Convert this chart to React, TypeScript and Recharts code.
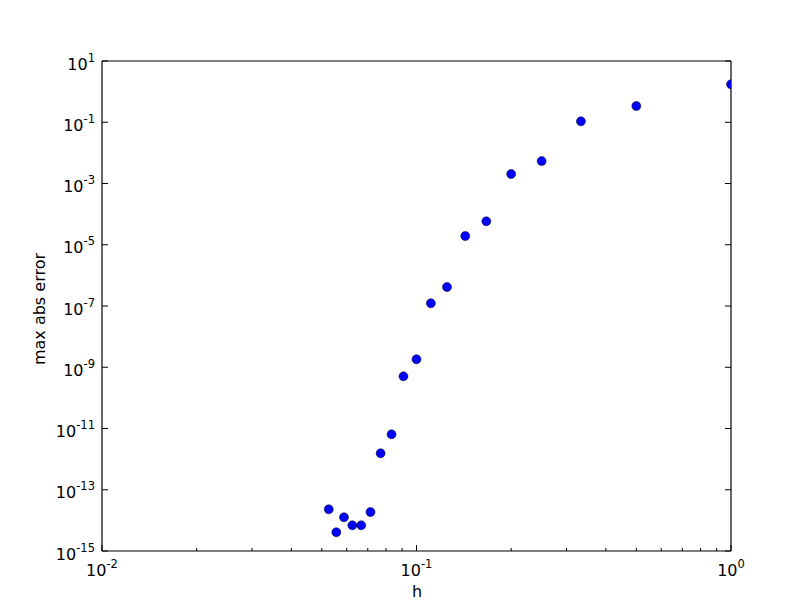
import React from 'react';
import { ScatterChart, Scatter, XAxis, YAxis } from 'recharts';

// step size h = 1/n, n = 1..19
const hValues = [
  1, 0.5, 0.3333, 0.25, 0.2, 0.1667, 0.1429, 0.125, 0.1111, 0.1,
  0.0909, 0.0833, 0.0769, 0.0714, 0.0667, 0.0625, 0.0588, 0.0556, 0.0526,
];
const errValues = [
  1.73, 0.34, 0.107, 5.4e-3, 2.04e-3, 5.8e-5, 1.93e-5, 4.17e-7, 1.23e-7, 1.82e-9,
  5.06e-10, 6.45e-12, 1.55e-12, 1.87e-14, 6.9e-15, 6.9e-15, 1.26e-14, 4.1e-15, 2.3e-14,
];

const xMajorTicks = [0.01, 0.1, 1];
const xMajorLabels = ['-2', '-1', '0'];
const xMinorTicks = [
  0.02, 0.03, 0.04, 0.05, 0.06, 0.07, 0.08, 0.09,
  0.2, 0.3, 0.4, 0.5, 0.6, 0.7, 0.8, 0.9,
];
const yTicks = [1e1, 1e-1, 1e-3, 1e-5, 1e-7, 1e-9, 1e-11, 1e-13, 1e-15];
const yTickLabels = ['1', '-1', '-3', '-5', '-7', '-9', '-11', '-13', '-15'];

const data = hValues.map((h, i) => ({ h, err: errValues[i] }));
const xTicks = [...xMajorTicks, ...xMinorTicks].sort((a, b) => a - b);

const W = 812;
const H = 612;
const M = { top: 31, right: 21, bottom: 31, left: 42 };
const AXIS_H = 30;
const AXIS_W = 60;
// plot rect, used to clip markers like matplotlib does
const PLOT = {
  x: M.left + AXIS_W,
  y: M.top + AXIS_H,
  w: W - M.left - M.right - 2 * AXIS_W,
  h: H - M.top - M.bottom - 2 * AXIS_H,
};

const FONT = 'DejaVu Sans, sans-serif';
const MAJOR = 6;
const MINOR = 3;

const majorIndex = (v: number) => xMajorTicks.findIndex((t) => Math.abs(t - v) < t * 1e-6);

const BottomTick = (props: any) => {
  const { x, y, payload } = props;
  const i = majorIndex(payload.value);
  return (
    <g>
      <line x1={x} x2={x} y1={y} y2={y - (i >= 0 ? MAJOR : MINOR)} stroke="#000" />
      {i >= 0 && (
        <text x={x} y={y + 24.5} textAnchor="middle" fontFamily={FONT} fontSize={16} fill="#000">
          <tspan>10</tspan>
          <tspan dy={-8} fontSize={11.5}>{xMajorLabels[i]}</tspan>
        </text>
      )}
    </g>
  );
};

const TopTick = (props: any) => {
  const { x, y, payload } = props;
  const i = majorIndex(payload.value);
  return <line x1={x} x2={x} y1={y} y2={y + (i >= 0 ? MAJOR : MINOR)} stroke="#000" />;
};

const LeftTick = (props: any) => {
  const { x, y, payload } = props;
  const i = yTicks.indexOf(payload.value);
  return (
    <g>
      <line x1={x} x2={x + MAJOR} y1={y} y2={y} stroke="#000" />
      <text x={x - 7} y={y + 8.5} textAnchor="end" fontFamily={FONT} fontSize={16} fill="#000">
        <tspan>10</tspan>
        <tspan dy={-8} fontSize={11.5}>{yTickLabels[i]}</tspan>
      </text>
    </g>
  );
};

const RightTick = (props: any) => {
  const { x, y } = props;
  return <line x1={x} x2={x - MAJOR} y1={y} y2={y} stroke="#000" />;
};

const Dot = (props: any) => {
  const { cx, cy, index } = props;
  if (cx == null || cy == null) return null;
  return (
    <g>
      {index === 0 && (
        <defs>
          <clipPath id="plot-clip">
            <rect x={PLOT.x} y={PLOT.y} width={PLOT.w} height={PLOT.h} />
          </clipPath>
        </defs>
      )}
      <circle
        cx={cx}
        cy={cy}
        r={4.5}
        fill="#0000ff"
        stroke="#000"
        strokeWidth={0.5}
        clipPath="url(#plot-clip)"
      />
    </g>
  );
};

const App: React.FC = () => {
  return (
    <div style={{ position: 'absolute', left: 0, top: 0, width: W, height: H, background: '#fff' }}>
      <ScatterChart width={W} height={H} margin={M}>
        <XAxis
          xAxisId="b"
          dataKey="h"
          type="number"
          scale="log"
          domain={[0.01, 1]}
          allowDataOverflow
          ticks={xTicks}
          interval={0}
          height={AXIS_H}
          tickSize={0}
          tickMargin={0}
          tickLine={false}
          axisLine={{ stroke: '#000', strokeWidth: 1.2 }}
          tick={<BottomTick />}
          label={() => (
            <text x={417} y={597} textAnchor="middle" fontFamily={FONT} fontSize={16} fill="#000">
              h
            </text>
          )}
        />
        <XAxis
          xAxisId="t"
          orientation="top"
          type="number"
          scale="log"
          domain={[0.01, 1]}
          allowDataOverflow
          ticks={xTicks}
          interval={0}
          height={AXIS_H}
          tickSize={0}
          tickMargin={0}
          tickLine={false}
          axisLine={{ stroke: '#000', strokeWidth: 1.2 }}
          tick={<TopTick />}
        />
        <YAxis
          yAxisId="l"
          dataKey="err"
          type="number"
          scale="log"
          domain={[1e-15, 10]}
          allowDataOverflow
          ticks={yTicks}
          interval={0}
          width={AXIS_W}
          tickSize={0}
          tickMargin={0}
          tickLine={false}
          axisLine={{ stroke: '#000', strokeWidth: 1.2 }}
          tick={<LeftTick />}
          label={() => (
            <text
              x={45}
              y={309}
              transform="rotate(-90 45 309)"
              textAnchor="middle"
              fontFamily={FONT}
              fontSize={16}
              fill="#000"
            >
              max abs error
            </text>
          )}
        />
        <YAxis
          yAxisId="r"
          orientation="right"
          type="number"
          scale="log"
          domain={[1e-15, 10]}
          allowDataOverflow
          ticks={yTicks}
          interval={0}
          width={AXIS_W}
          tickSize={0}
          tickMargin={0}
          tickLine={false}
          axisLine={{ stroke: '#000', strokeWidth: 1.2 }}
          tick={<RightTick />}
        />
        <Scatter data={data} xAxisId="b" yAxisId="l" shape={<Dot />} isAnimationActive={false} />
      </ScatterChart>
    </div>
  );
};

export default App;
